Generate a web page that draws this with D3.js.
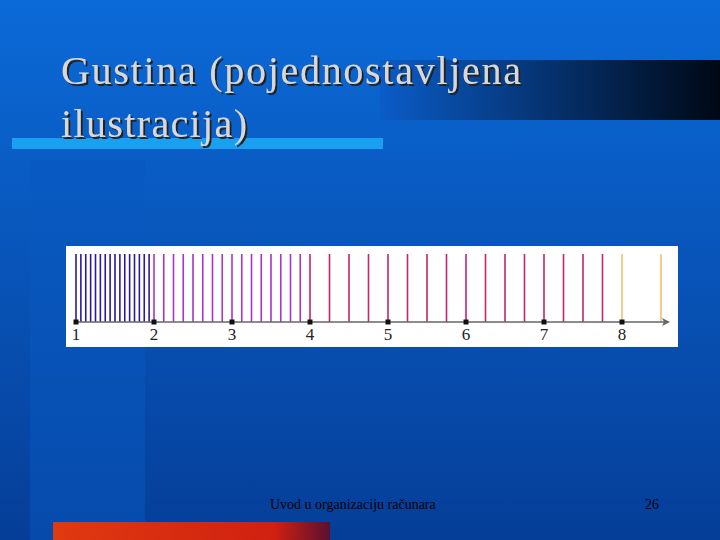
<!DOCTYPE html>
<html><head><meta charset="utf-8">
<script src="https://d3js.org/d3.v7.min.js"></script>
<style>body{margin:0}svg{display:block}</style></head>
<body><svg id="s" width="720" height="540"></svg>
<script>
// line groups: [start, end, step, colour]
var groups = [
  {from: 1, to: 2, step: 1 / 16, color: "#2a1a9c"},
  {from: 2, to: 4, step: 1 / 8, color: "#a834c4"},
  {from: 4, to: 8, step: 1 / 4, color: "#c42468"},
  {from: 8, to: 9, step: 1 / 2, color: "#f0c070"}
];
var ticks = [1, 2, 3, 4, 5, 6, 7, 8];
var title = ["Gustina (pojednostavljena", "ilustracija)"];
var svg = d3.select("#s");

var defs = svg.append("defs");
var bg = defs.append("linearGradient").attr("id", "bg").attr("x1", 0).attr("y1", 0).attr("x2", 0).attr("y2", 1);
bg.append("stop").attr("offset", 0).attr("stop-color", "#0b6ad8");
bg.append("stop").attr("offset", 1).attr("stop-color", "#053e98");
var band = defs.append("linearGradient").attr("id", "band");
band.append("stop").attr("offset", 0).attr("stop-color", "#0a5cc8");
band.append("stop").attr("offset", 1).attr("stop-color", "#000814");
var red = defs.append("linearGradient").attr("id", "red");
red.append("stop").attr("offset", 0).attr("stop-color", "#e03a10");
red.append("stop").attr("offset", 0.8).attr("stop-color", "#d02010");
red.append("stop").attr("offset", 1).attr("stop-color", "#5a1030");
var sh = defs.append("filter").attr("id", "sh");
sh.append("feDropShadow").attr("dx", 2).attr("dy", 2).attr("stdDeviation", 0.6).attr("flood-color", "#222");

svg.append("rect").attr("width", 720).attr("height", 540).attr("fill", "url(#bg)");
svg.append("rect").attr("x", 30).attr("y", 160).attr("width", 115).attr("height", 380).attr("fill", "#0858c0").attr("opacity", 0.5);
svg.append("rect").attr("x", 380).attr("y", 60).attr("width", 340).attr("height", 60).attr("fill", "url(#band)");
svg.append("rect").attr("x", 12).attr("y", 138).attr("width", 371).attr("height", 11).attr("fill", "#1aa0f0");
svg.append("rect").attr("x", 53).attr("y", 522).attr("width", 277).attr("height", 18).attr("fill", "url(#red)");

svg.append("g").attr("filter", "url(#sh)").selectAll("text").data(title).join("text")
  .attr("x", 61).attr("y", function (d, i) { return 84 + i * 53; })
  .attr("font-family", "Liberation Serif").attr("font-size", 40)
  .attr("textLength", function (d, i) { return i ? 186 : 460; })
  .attr("fill", "#d8d8d8").text(function (d) { return d; });

svg.append("text").attr("x", 270).attr("y", 509).attr("font-family", "Liberation Serif")
  .attr("font-size", 14).attr("fill", "#000").text("Uvod u organizaciju računara");
svg.append("text").attr("x", 645).attr("y", 509).attr("font-family", "Liberation Serif")
  .attr("font-size", 14).attr("fill", "#000").text("26");

// chart panel
svg.append("rect").attr("x", 66).attr("y", 246).attr("width", 612).attr("height", 101).attr("fill", "#fff");
var x = d3.scaleLinear().domain([1, 8]).range([76, 622]);
var y0 = 322, y1 = 254;

var lines = [];
groups.forEach(function (g) {
  for (var v = g.from; v < g.to - 1e-9; v += g.step) lines.push({v: v, color: g.color});
});
svg.append("g").selectAll("line").data(lines).join("line")
  .attr("x1", function (d) { return x(d.v); }).attr("x2", function (d) { return x(d.v); })
  .attr("y1", y0).attr("y2", y1)
  .attr("stroke", function (d) { return d.color; }).attr("stroke-width", 1.6);

svg.append("line").attr("x1", x(1)).attr("x2", 666).attr("y1", y0).attr("y2", y0)
  .attr("stroke", "#666").attr("stroke-width", 1.3);
svg.append("path").attr("d", "M670," + y0 + " L662," + (y0 - 4) + " L664," + y0 + " L662," + (y0 + 4) + "Z").attr("fill", "#666");

var tg = svg.append("g").selectAll("g").data(ticks).join("g")
  .attr("transform", function (d) { return "translate(" + x(d) + "," + y0 + ")"; });
tg.append("rect").attr("x", -2.5).attr("y", -2.5).attr("width", 5).attr("height", 5).attr("fill", "#111");
tg.append("text").attr("y", 18).attr("text-anchor", "middle").attr("font-family", "Liberation Serif")
  .attr("font-size", 17).attr("fill", "#222").text(function (d) { return d; });
</script></body></html>
